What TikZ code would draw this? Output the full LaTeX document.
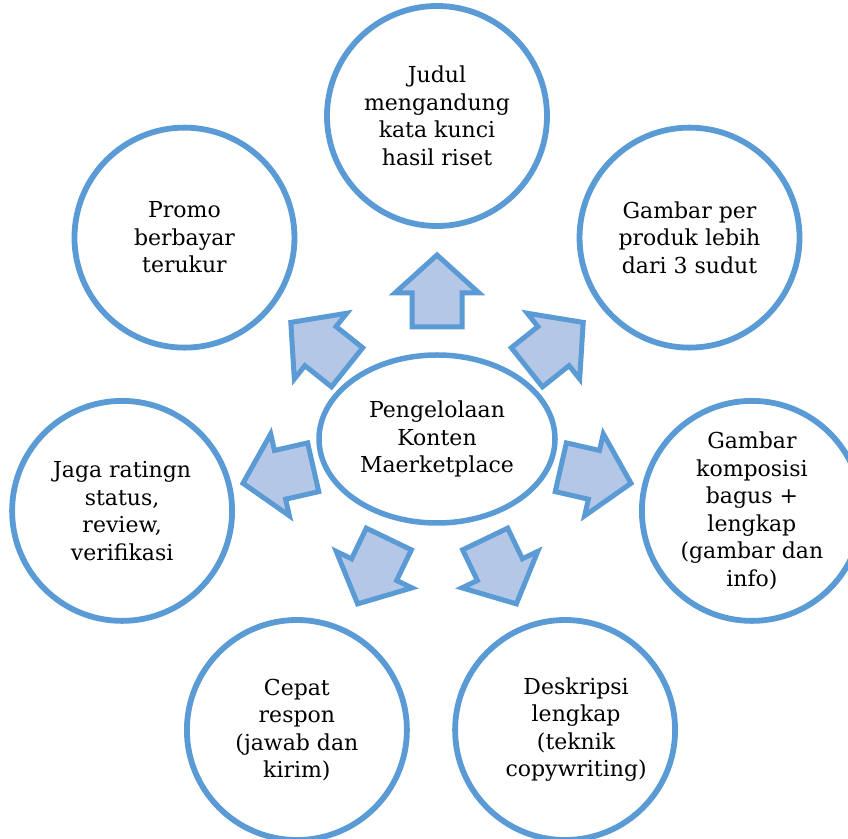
\documentclass[tikz,border=0pt]{standalone}
\usepackage{fontspec}
\setmainfont{DejaVu Serif}
\usetikzlibrary{calc,shapes.geometric}
\definecolor{ringblue}{HTML}{5B9BD5}
\definecolor{arrowfill}{HTML}{B4C7E7}
\tikzset{
  x=1pt, y=1pt,
  label font/.style={font=\fontsize{22}{27.5}\selectfont},
  hub/.style={ellipse, draw=ringblue, line width=5.5pt, fill=white,
    minimum width=236pt, minimum height=168pt, inner sep=0pt,
    align=center, label font},
  spoke/.style={circle, draw=ringblue, line width=5.8pt, fill=white,
    minimum size=220pt, inner sep=0pt, align=center, label font},
  blockarrow/.pic={
    \draw[draw=ringblue, fill=arrowfill, line width=5pt, line join=miter]
      (-36,-25) -- (-2,-25) -- (-2,-42) -- (36,0) -- (-2,42) -- (-2,25)
      -- (-36,25) -- cycle;
  }
}
\begin{document}
\begin{tikzpicture}
  \useasboundingbox (0,0) rectangle (848,838);
  \clip (0,0) rectangle (848,838);
  \coordinate (C) at (437,399);

  % outer ring of topics, seven equal steps starting at the top
  \node[spoke] (s0) at ($(C)+(90:323)$) {Judul\\mengandung\\kata kunci\\hasil riset};
  \node[spoke] (s1) at ($(C)+(38.57:323)$) {Gambar per\\produk lebih\\dari 3 sudut};
  \node[spoke] (s2) at ($(C)+(-12.86:323)$) {Gambar\\komposisi\\bagus +\\lengkap\\(gambar dan\\info)};
  \node[spoke, xshift=-12pt] (s3) at ($(C)+(-64.29:323)$)
    {\hspace*{22pt}\begin{tabular}{@{}c@{}}Deskripsi\\lengkap\\(teknik\\copywriting)\end{tabular}};
  \node[spoke] (s4) at ($(C)+(-115.71:323)$) {Cepat\\respon\\(jawab dan\\kirim)};
  \node[spoke] (s5) at ($(C)+(-167.14:323)$) {Jaga ratingn\\status,\\review,\\verifikasi};
  \node[spoke] (s6) at ($(C)+(141.43:323)$) {Promo\\berbayar\\terukur};

  % block arrows pointing outwards from the hub (angle / distance)
  \foreach \a/\d in {90/148, 38.57/151, -12.86/163, -64.29/147,
                     -115.71/147, -167.14/163, 141.43/151}
    \pic[rotate=\a] at ($(C)+(\a:\d)$) {blockarrow};

  % central hub
  \node[hub] (hub) at (C) {Pengelolaan\\Konten\\Maerketplace};
\end{tikzpicture}
\end{document}
